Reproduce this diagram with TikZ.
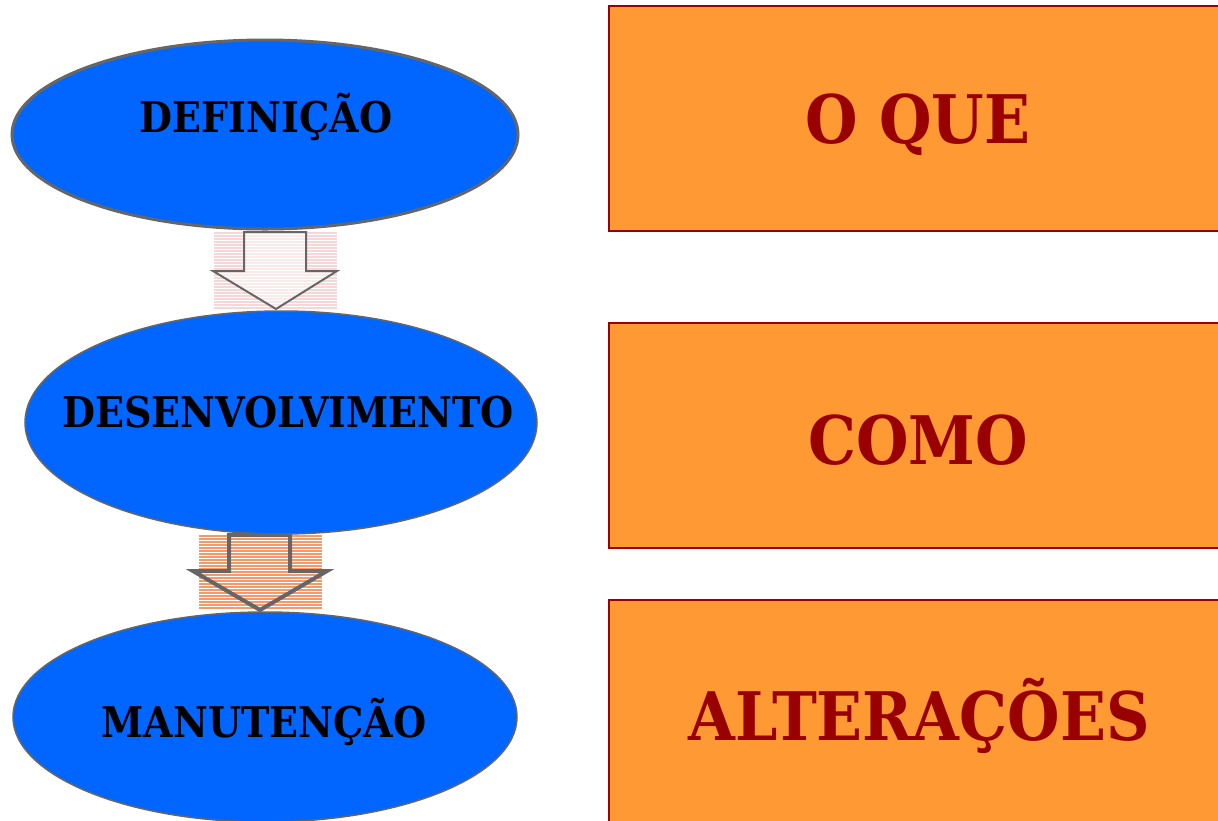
\documentclass[tikz,border=0pt]{standalone}
\usepackage{fontspec}
\setmainfont{DejaVu Serif Condensed}
\usetikzlibrary{shapes.geometric}
\definecolor{ellblue}{HTML}{0066FF}
\definecolor{ellgray}{HTML}{666666}
\definecolor{boxorange}{HTML}{FF9933}
\definecolor{boxred}{HTML}{990000}
\definecolor{stripepink}{HTML}{F6D6D6}
\definecolor{stripeorange}{HTML}{F29A6A}
\tikzset{
  phase/.style={ellipse, draw=ellgray, fill=ellblue, inner sep=0pt},
  phasetext/.style={font=\fontsize{42.3}{48}\selectfont\bfseries, text=black, inner sep=0pt, anchor=base},
  askbox/.style={rectangle, draw=boxred, line width=1.5pt, fill=boxorange, inner sep=0pt},
  asktext/.style={font=\fontsize{67}{76}\selectfont\bfseries, text=boxred, inner sep=0pt, anchor=base},
  blockarrow/.style={draw=ellgray, line join=miter},
}
\begin{document}
\begin{tikzpicture}[x=1pt,y=-1pt]
\useasboundingbox (0,0) rectangle (1218,820);
% boxes
\node[askbox, minimum width=612pt, minimum height=225pt, anchor=north west] (b1) at (608,5) {};
\node[askbox, minimum width=612pt, minimum height=225pt, anchor=north west] (b2) at (608,322) {};
\node[askbox, minimum width=612pt, minimum height=225pt, anchor=north west] (b3) at (608,599) {};
\node[asktext] (t1) at (918,143) {O QUE};
\node[asktext] (t2) at (918,464) {COMO};
\node[asktext] (t3) at (919,740) {ALTERAÇÕES};
% striped backgrounds
\foreach \y in {233,236,...,308} {
  \draw[stripepink, line width=1.2pt] (214,\y) -- (337,\y);
}
\foreach \y in {536,539,...,608} {
  \draw[stripeorange, line width=1.4pt] (199,\y) -- (322,\y);
}
% ellipses
\node[phase, line width=3pt, minimum width=506pt, minimum height=189pt] (e1) at (265,134.5) {};
\node[phase, line width=1.5pt, minimum width=512pt, minimum height=223pt] (e2) at (281,422.5) {};
\node[phase, line width=1.5pt, minimum width=504pt, minimum height=210pt] (e3) at (265,717) {};
\node[phasetext] (l1) at (266,132) {DEFINIÇÃO};
\node[phasetext] (l2) at (288,427) {DESENVOLVIMENTO};
\node[phasetext] (l3) at (264,737) {MANUTENÇÃO};
% block arrows
\draw[blockarrow, line width=2pt, fill=white, fill opacity=0.5]
  (244,232) -- (306,232) -- (306,271) -- (337,271) -- (276,309) -- (213,271) -- (244,271) -- cycle;
\draw[blockarrow, line width=4pt]
  (229,535) -- (290,535) -- (290,571) -- (327,571) -- (260,610) -- (193,571) -- (229,571) -- cycle;
\end{tikzpicture}
\end{document}
